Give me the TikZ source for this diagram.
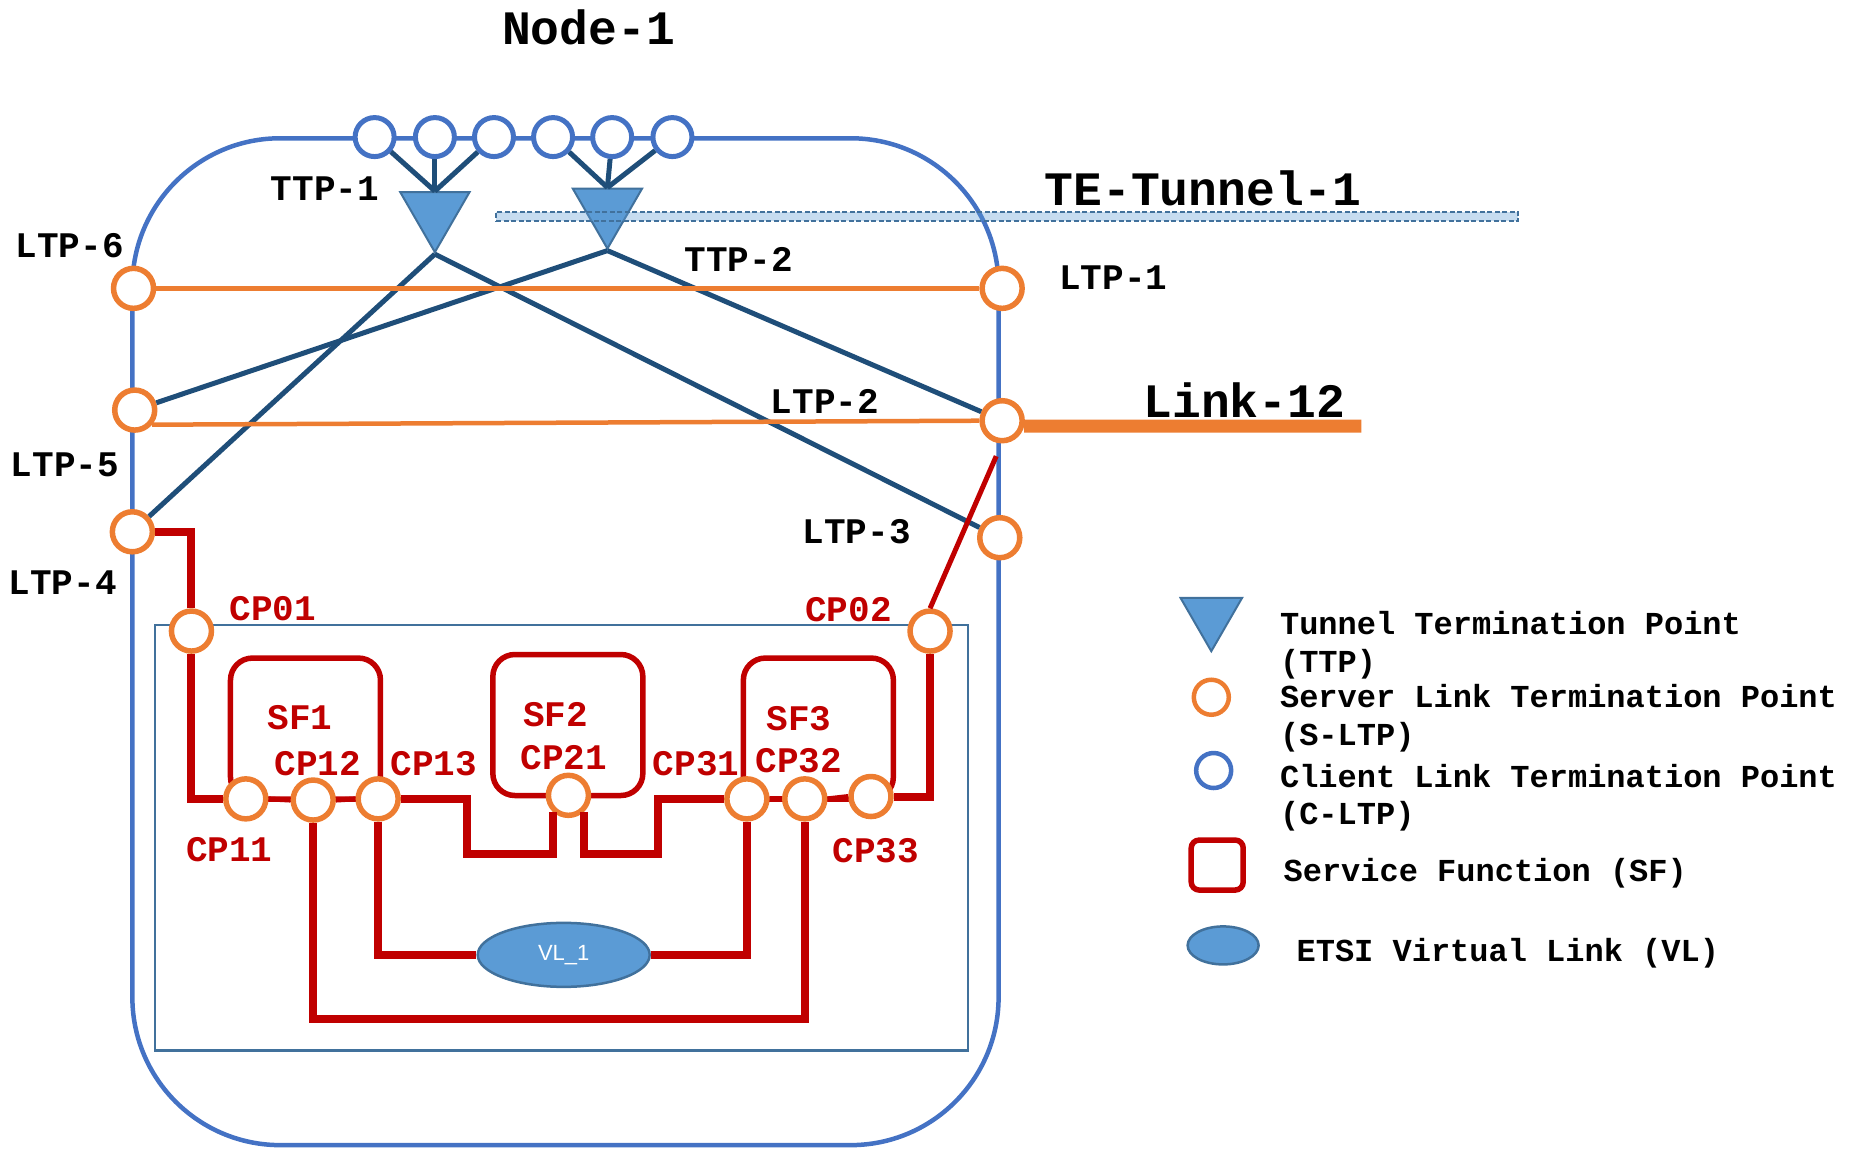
\documentclass[tikz,border=0pt]{standalone}
\usepackage{fontspec}
\setmainfont{Liberation Sans}
\newfontfamily\monofam{Liberation Mono}
\usetikzlibrary{shapes.geometric}
\definecolor{cBlue}{HTML}{4472C4}
\definecolor{cOrange}{HTML}{ED7D31}
\definecolor{cRed}{HTML}{C00000}
\definecolor{cDark}{HTML}{1F4E79}
\definecolor{cFill}{HTML}{5B9BD5}
\definecolor{cEdge}{HTML}{41719C}
\begin{document}
\begin{tikzpicture}[x=1.18176pt, y=-1.18176pt,
  lbl/.style={font=\monofam\bfseries\fontsize{36}{40}\selectfont, inner sep=0pt, anchor=base},
  rlbl/.style={lbl, text=cRed},
  biglbl/.style={font=\monofam\bfseries\fontsize{48}{52}\selectfont, inner sep=0pt, anchor=base},
  leg/.style={font=\monofam\bfseries\fontsize{32}{38}\selectfont, inner sep=0pt, anchor=base west},
  sltp/.style={circle, draw=cOrange, line width=5.5pt, fill=white, minimum size=40pt, inner sep=0pt},
  cltp/.style={circle, draw=cBlue, line width=5pt, fill=white, minimum size=39pt, inner sep=0pt},
  ttpshape/.style={regular polygon, regular polygon sides=3, shape border rotate=180, fill=cFill, draw=cEdge, line width=2pt, minimum size=80pt, inner sep=0pt},
  sfbox/.style={draw=cRed, line width=5.5pt, rounded corners=22pt, inner sep=0pt},
  vlshape/.style={ellipse, fill=cFill, draw=cEdge, line width=2.5pt, inner sep=0pt},
  redthick/.style={draw=cRed, line width=8pt},
  redthin/.style={draw=cRed, line width=5pt},
  darkline/.style={draw=cDark, line width=5pt},
  orline/.style={draw=cOrange, line width=4.5pt},
  tunbar/.style={draw=cEdge, dash pattern=on 5pt off 2.5pt, line width=2pt, fill=cFill, fill opacity=0.35, draw opacity=1, inner sep=0pt}
]
\useasboundingbox (0,0) rectangle (1568,972);

% node boundary and NS inner box
\draw[cBlue, line width=4.5pt, rounded corners=148pt] (112,117) rectangle (845,969);
\draw[cEdge, line width=2.5pt] (131,529) rectangle (819,889);

% service functions
\node[sfbox, minimum width=150pt, minimum height=141pt] (sf1) at (258.5,616.5) {};
\node[sfbox, minimum width=150pt, minimum height=141pt] (sf2) at (480.5,613.5) {};
\node[sfbox, minimum width=150pt, minimum height=141pt] (sf3) at (692.5,616.5) {};

% client LTPs
\node[cltp] (c1) at (317,116) {};
\node[cltp] (c2) at (368,116) {};
\node[cltp] (c3) at (418,116) {};
\node[cltp] (c4) at (468,116) {};
\node[cltp] (c5) at (518,116) {};
\node[cltp] (c6) at (569,116) {};

% TTPs
\node[ttpshape] (ttp1) at (368,179.5) {};
\node[ttpshape] (ttp2) at (514,176.5) {};

% server LTPs
\node[sltp] (ltp6) at (113,244) {};
\node[sltp] (ltp5) at (114,347) {};
\node[sltp] (ltp4) at (112,450) {};
\node[sltp] (ltp1) at (848,244) {};
\node[sltp] (ltp2) at (848,356) {};
\node[sltp] (ltp3) at (846,455) {};

% connection points
\node[sltp] (cp01) at (162,534) {};
\node[sltp] (cp02) at (787,534) {};
\node[sltp] (cp11) at (208,676) {};
\node[sltp] (cp12) at (265,677) {};
\node[sltp] (cp13) at (320,676) {};
\node[sltp] (cp21) at (481,673) {};
\node[sltp] (cp31) at (632,676) {};
\node[sltp] (cp32) at (681,676) {};
\node[sltp] (cp33) at (737,674) {};

% virtual link
\node[vlshape, minimum width=172pt, minimum height=64pt, text=white, font=\fontsize{22}{24}\selectfont] (vl) at (477,808) {VL\_1};

% client to TTP connections
\draw[darkline] (c1) -- (ttp1.north);
\draw[darkline] (c2) -- (ttp1.north);
\draw[darkline] (c3) -- (ttp1.north);
\draw[darkline] (c4) -- (ttp2.north);
\draw[darkline] (c5) -- (ttp2.north);
\draw[darkline] (c6) -- (ttp2.north);

% TTP to LTP
\draw[darkline] (ttp1.corner 1) -- (ltp4);
\draw[darkline] (ttp1.corner 1) -- (ltp3);
\draw[darkline] (ttp2.corner 1) -- (ltp5);
\draw[darkline] (ttp2.corner 1) -- (ltp2);

% tunnel bar
\node[tunbar, minimum width=1022pt, minimum height=9.5pt] (tun) at (852.5,183) {};

% LTP links
\draw[orline] (ltp6) -- (ltp1);
\draw[orline] (ltp5.-40) -- (ltp2.west);
\coordinate (l12end) at (1152,360.5);
\draw[cOrange, line width=13pt] (ltp2.-14) -- (l12end);

% red connections
\coordinate (l2red) at (843,386);
\draw[draw=cRed, line width=5pt] (l2red) -- (cp02.north);
\draw[redthick] (ltp4.east) -| (cp01.north);
\draw[redthick] (cp01.south) |- (cp11.west);
\draw[redthin] (cp11.east) -- (cp12.west);
\draw[redthin] (cp12.east) -- (cp13.west);
\draw[redthick] (cp13.east) -| (395,723) -| (cp21.228);
\draw[redthick] (cp21.312) |- (557,723) |- (cp31.west);
\draw[redthin] (cp31.east) -- (cp32.west);
\draw[redthin] (cp32.east) -- (cp33.west);
\draw[redthick] (cp33.east) -| (cp02.south);
\draw[redthick] (cp13.south) |- (vl.west);
\draw[redthick] (vl.east) -| (cp31.south);
\draw[redthick] (cp12.south) |- (681,862) -- (cp32.south);

% labels
\node[biglbl] (tnode) at (498,38) {Node-1};
\node[biglbl] (ttun) at (1018,174) {TE-Tunnel-1};
\node[biglbl] (tlink) at (1053,353) {Link-12};
\node[lbl] (tttp1) at (275,170) {TTP-1};
\node[lbl] (tttp2) at (625,230) {TTP-2};
\node[lbl] (tl6) at (59,218) {LTP-6};
\node[lbl] (tl1) at (942,245) {LTP-1};
\node[lbl] (tl5) at (55,403) {LTP-5};
\node[lbl] (tl2) at (698,350) {LTP-2};
\node[lbl] (tl4) at (53,503) {LTP-4};
\node[lbl] (tl3) at (725,460) {LTP-3};
\node[rlbl] (tcp01) at (231,525) {CP01};
\node[rlbl] (tcp02) at (718,526) {CP02};
\node[rlbl] (tsf1) at (254,617) {SF1};
\node[rlbl] (tcp12) at (269,656) {CP12};
\node[rlbl] (tcp13) at (367,656) {CP13};
\node[rlbl] (tcp11) at (194,729) {CP11};
\node[rlbl] (tsf2) at (470,615) {SF2};
\node[rlbl] (tcp21) at (477,651) {CP21};
\node[rlbl] (tcp31) at (589,656) {CP31};
\node[rlbl] (tsf3) at (676,618) {SF3};
\node[rlbl] (tcp32) at (676,654) {CP32};
\node[rlbl] (tcp33) at (741,730) {CP33};

% legend
\node[ttpshape, minimum size=71pt] (lgttp) at (1025,521) {};
\node[leg] (lgt1) at (1083,537) {Tunnel Termination Point};
\node[leg] (lgt1b) at (1083,569) {(TTP)};
\node[sltp, minimum size=35pt, line width=4.5pt] (lgs) at (1025,590) {};
\node[leg] (lgt2) at (1083,599) {Server Link Termination Point};
\node[leg] (lgt2b) at (1083,631) {(S-LTP)};
\node[cltp, minimum size=35pt, line width=4.5pt] (lgc) at (1027,652) {};
\node[leg] (lgt3) at (1083,666) {Client Link Termination Point};
\node[leg] (lgt3b) at (1083,698) {(C-LTP)};
\node[sfbox, minimum width=52pt, minimum height=50pt, rounded corners=8pt] (lgsf) at (1030,732) {};
\node[leg] (lgt4) at (1086,746) {Service Function (SF)};
\node[vlshape, minimum width=71pt, minimum height=38pt] (lgvl) at (1035,800) {};
\node[leg] (lgt5) at (1097,814) {ETSI Virtual Link (VL)};
\end{tikzpicture}
\end{document}
